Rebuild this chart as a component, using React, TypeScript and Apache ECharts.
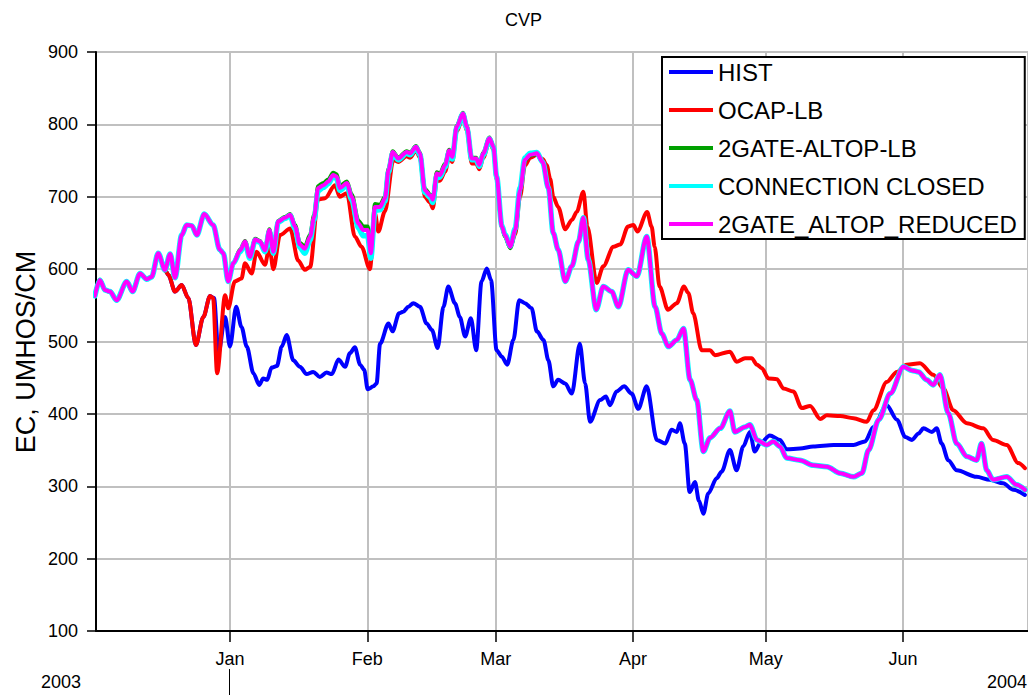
import React, { useEffect, useRef } from "react";
import * as echarts from "echarts";

const FONT = "'Liberation Sans', Arial, Helvetica, sans-serif";
const DAY = 86400000;
const START = Date.UTC(2003, 11, 1);

const TITLE = "CVP";
const Y_NAME = "EC, UMHOS/CM";
const MONTH_NAMES = ["Jan", "Feb", "Mar", "Apr", "May", "Jun", "Jul", "Aug", "Sep", "Oct", "Nov", "Dec"];
const Y_TICKS = { min: 100, max: 900, step: 100 };
const YEAR_LABELS = ["2003", "2004"];

const SERIES_NAMES = ["HIST", "OCAP-LB", "2GATE-ALTOP-LB", "CONNECTION CLOSED", "2GATE_ALTOP_REDUCED"];
const SERIES_COLORS = ["#0000ff", "#ff0000", "#00a000", "#00ffff", "#ff00ff"];

// [days since 2003-12-01, EC]
const HIST: [number, number][] = [
  [0.5, 563], [1.6, 585], [2.8, 571], [3.9, 569], [5.4, 557], [7.7, 583], [9.0, 569], [10.7, 594], [12.2, 586], [13.3, 589],
  [14.8, 622], [16.3, 599], [17.1, 592], [18.6, 569], [20.1, 578], [21.6, 560], [23.3, 495], [25.0, 534], [26.5, 563], [27.4, 560],
  [28.4, 484], [29.9, 534], [31.0, 493], [32.4, 548], [33.6, 520], [34.8, 493], [36.3, 456], [37.6, 440], [38.5, 449], [39.4, 447],
  [40.4, 464], [41.6, 466], [42.7, 493], [43.8, 509], [45.3, 474], [46.8, 465], [48.3, 455], [49.8, 458], [51.3, 451], [52.8, 457],
  [54.0, 455], [55.5, 475], [57.0, 465], [58.1, 484], [59.2, 492], [60.4, 468], [61.3, 461], [62.1, 434], [63.4, 438], [64.1, 442],
  [64.9, 497], [66.8, 525], [67.7, 514], [69.2, 539], [70.1, 541], [71.3, 548], [72.4, 553], [73.9, 548], [75.4, 525], [76.6, 516],
  [77.9, 491], [79.2, 548], [80.3, 576], [81.8, 553], [82.9, 534], [84.1, 507], [85.4, 532], [86.6, 488], [87.8, 583], [89.0, 601],
  [89.95, 585], [91.2, 488], [92.4, 479], [93.6, 468], [95.0, 502], [96.3, 557], [97.6, 553], [99.1, 546], [100.3, 514], [101.8, 502],
  [102.9, 474], [104.0, 438], [105.1, 447], [106.7, 442], [108.2, 428], [110.0, 497], [111.2, 442], [112.3, 389], [114.6, 419], [115.9, 424],
  [116.8, 412], [118.3, 431], [120.0, 438], [121.7, 428], [123.2, 407], [125.1, 438], [127.4, 364], [129.3, 359], [130.7, 378], [131.9, 375],
  [132.6, 387], [133.7, 359], [134.8, 292], [136.0, 306], [136.9, 280], [137.9, 262], [139.0, 290], [140.9, 311], [142.0, 320], [143.9, 350],
  [145.4, 322], [146.9, 355], [148.4, 375], [149.5, 348], [150.7, 359], [152.9, 370], [155.2, 364], [156.7, 351], [159.7, 352], [162.7, 355],
  [167.3, 357], [171.8, 357], [174.4, 362], [176.3, 382], [179.3, 412], [181.6, 392], [183.5, 368], [185.0, 364], [186.5, 373], [187.6, 380],
  [189.5, 375], [190.6, 380], [191.7, 359], [193.2, 336], [195.1, 322], [199.6, 313], [202.6, 309], [205.6, 304], [207.9, 295], [210.5, 288],
];

const OCAP_LB: [number, number][] = [
  [0.5, 563], [1.6, 585], [2.8, 571], [3.9, 569], [5.4, 557], [7.7, 583], [9.0, 569], [10.7, 594], [12.2, 586], [13.3, 589],
  [14.8, 622], [16.3, 599], [17.1, 592], [18.6, 569], [20.1, 578], [21.6, 560], [23.3, 495], [25.0, 534], [26.5, 563], [27.2, 560],
  [28.1, 456], [29.9, 564], [30.6, 546], [32.1, 583], [33.6, 587], [34.4, 608], [35.9, 594], [37.0, 624], [38.9, 606], [39.9, 631],
  [40.8, 600], [42.3, 647], [44.6, 656], [46.4, 612], [47.9, 599], [49.1, 603], [50.9, 696], [52.5, 698], [54.7, 716], [55.8, 700],
  [57.4, 705], [59.2, 645], [60.7, 631], [62.6, 600], [63.75, 677], [64.5, 652], [66.0, 680], [67.9, 751], [69.0, 748], [70.9, 756],
  [71.7, 754], [73.0, 764], [73.9, 754], [75.0, 700], [76.2, 692], [76.8, 684], [77.7, 722], [78.4, 722], [79.6, 735], [80.5, 756],
  [81.2, 748], [82.2, 790], [83.6, 810], [84.5, 792], [85.6, 746], [86.6, 746], [87.3, 738], [88.2, 754], [89.6, 777], [90.5, 765],
  [91.2, 724], [92.4, 660], [93.1, 645], [94.3, 630], [95.4, 648], [96.5, 700], [97.6, 743], [98.8, 754], [100.3, 758], [101.6, 752],
  [102.5, 744], [103.3, 725], [104.0, 700], [105.1, 686], [106.7, 655], [108.2, 668], [109.3, 679], [110.8, 707], [111.7, 659], [113.8, 581],
  [115.3, 604], [117.6, 631], [119.1, 634], [120.9, 659], [122.1, 661], [123.0, 652], [125.2, 679], [126.2, 659], [126.9, 631], [128.0, 576],
  [129.9, 544], [131.9, 553], [133.5, 576], [134.5, 567], [135.6, 539], [137.5, 488], [139.4, 488], [140.5, 481], [143.9, 486], [145.4, 472],
  [147.3, 477], [148.8, 477], [150.0, 468], [151.1, 463], [152.6, 449], [154.5, 448], [156.0, 435], [158.2, 431], [160.1, 408], [162.0, 411],
  [164.3, 393], [165.8, 398], [168.8, 397], [171.8, 394], [174.8, 389], [176.3, 405], [179.3, 444], [181.6, 458], [183.8, 468], [186.8, 470],
  [189.8, 454], [192.1, 435], [194.3, 405], [197.4, 387], [201.1, 380], [203.3, 364], [206.4, 357], [209.0, 332], [210.5, 325],
];

const GATE_LB: [number, number][] = [
  [0.5, 563], [1.6, 585], [2.8, 571], [3.9, 569], [5.4, 557], [7.7, 583], [9.0, 569], [10.7, 594], [12.2, 586], [13.3, 589],
  [14.8, 622], [16.3, 599], [17.5, 621], [18.6, 588], [20.1, 647], [21.2, 661], [22.4, 660], [23.5, 647], [25.2, 676], [27.2, 661],
  [28.7, 627], [29.5, 622], [30.6, 583], [31.75, 608], [33.3, 627], [34.4, 639], [35.5, 618], [36.7, 642], [37.8, 639], [38.9, 627],
  [39.9, 655], [40.8, 625], [41.9, 667], [43.4, 672], [44.6, 676], [45.7, 661], [46.8, 636], [47.9, 631], [49.1, 648], [50.0, 675],
  [50.9, 715], [52.1, 719], [53.2, 724], [54.3, 733], [55.1, 731], [55.8, 715], [57.4, 721], [58.5, 703], [60.0, 667], [61.1, 659],
  [62.1, 659], [62.8, 627], [63.75, 690], [64.9, 689], [66.0, 700], [66.8, 739], [67.75, 763], [69.0, 754], [70.9, 763], [71.7, 761],
  [73.0, 770], [73.9, 761], [75.0, 711], [76.2, 703], [76.8, 698], [77.7, 734], [78.4, 732], [79.6, 746], [80.5, 765], [81.2, 756],
  [82.2, 798], [83.6, 816], [84.5, 798], [85.6, 754], [86.6, 754], [87.3, 745], [88.2, 761], [89.6, 782], [90.5, 770], [91.2, 729],
  [92.4, 658], [93.1, 645], [94.3, 629], [95.4, 652], [96.5, 707], [97.6, 750], [98.8, 757], [100.3, 759], [101.6, 748], [102.9, 712],
  [104.0, 650], [105.1, 627], [106.7, 583], [108.2, 604], [109.7, 638], [110.8, 671], [111.9, 613], [113.7, 544], [115.3, 576], [117.2, 569],
  [118.7, 548], [120.9, 599], [122.9, 590], [125.1, 645], [127.0, 548], [128.5, 511], [130.0, 493], [131.9, 502], [133.4, 518], [134.9, 447],
  [136.4, 419], [137.9, 348], [139.4, 367], [141.7, 380], [143.9, 404], [145.0, 375], [147.3, 382], [148.4, 385], [150.0, 364], [152.2, 357],
  [153.7, 362], [155.2, 355], [156.7, 339], [159.7, 336], [162.7, 329], [165.8, 327], [168.8, 318], [171.8, 313], [173.7, 318], [175.2, 350],
  [177.5, 392], [180.1, 428], [183.1, 465], [185.0, 460], [186.5, 458], [188.3, 447], [189.8, 440], [191.3, 454], [193.2, 401], [195.1, 359],
  [197.4, 341], [199.6, 336], [200.7, 359], [201.9, 322], [203.3, 309], [206.4, 313], [208.6, 302], [210.5, 295],
];

const CONNECTION_CLOSED: [number, number][] = [
  [0.5, 563], [1.6, 585], [2.8, 571], [3.9, 569], [5.4, 557], [7.7, 583], [9.0, 569], [10.7, 594], [12.2, 586], [13.3, 589],
  [14.8, 622], [16.3, 599], [17.5, 621], [18.6, 588], [20.1, 647], [21.2, 661], [22.4, 660], [23.5, 647], [25.2, 676], [27.2, 661],
  [28.7, 627], [29.5, 622], [30.6, 583], [31.75, 608], [33.3, 624], [34.4, 636], [35.5, 615], [36.7, 640], [37.8, 637], [38.9, 624],
  [39.9, 652], [40.8, 622], [41.9, 665], [43.4, 670], [44.6, 674], [45.7, 656], [46.8, 630], [47.9, 622], [49.1, 640], [50.0, 668],
  [50.9, 708], [52.1, 713], [53.2, 718], [54.3, 728], [55.1, 725], [55.8, 709], [57.4, 716], [58.5, 696], [60.0, 657], [61.1, 646],
  [62.1, 646], [62.8, 615], [63.75, 681], [64.9, 682], [66.0, 694], [66.8, 734], [67.75, 760], [69.0, 751], [70.9, 760], [71.7, 758],
  [73.0, 768], [73.9, 758], [75.0, 706], [76.2, 699], [76.8, 692], [77.7, 729], [78.4, 727], [79.6, 741], [80.5, 762], [81.2, 752],
  [82.2, 795], [83.6, 814], [84.5, 795], [85.6, 751], [86.6, 751], [87.3, 742], [88.2, 758], [89.6, 780], [90.5, 768], [91.2, 728],
  [92.4, 660], [93.1, 648], [94.3, 632], [95.4, 656], [96.5, 712], [97.6, 754], [98.8, 760], [100.3, 761], [101.6, 748], [102.9, 712],
  [104.0, 650], [105.1, 627], [106.7, 583], [108.2, 604], [109.7, 638], [110.8, 671], [111.9, 613], [113.7, 544], [115.3, 576], [117.2, 569],
  [118.7, 548], [120.9, 599], [122.9, 590], [125.1, 645], [127.0, 548], [128.5, 511], [130.0, 493], [131.9, 502], [133.4, 518], [134.9, 447],
  [136.4, 419], [137.9, 348], [139.4, 367], [141.7, 380], [143.9, 404], [145.0, 375], [147.3, 382], [148.4, 385], [150.0, 364], [152.2, 357],
  [153.7, 362], [155.2, 355], [156.7, 339], [159.7, 336], [162.7, 329], [165.8, 327], [168.8, 318], [171.8, 313], [173.7, 318], [175.2, 350],
  [177.5, 392], [180.1, 428], [183.1, 465], [185.0, 460], [186.5, 458], [188.3, 447], [189.8, 440], [191.3, 454], [193.2, 401], [195.1, 359],
  [197.4, 341], [199.6, 336], [200.7, 359], [201.9, 322], [203.3, 309], [206.4, 313], [208.6, 302], [210.5, 295],
];

const GATE_REDUCED: [number, number][] = [
  [0.5, 563], [1.6, 585], [2.8, 571], [3.9, 569], [5.4, 557], [7.7, 583], [9.0, 569], [10.7, 594], [12.2, 586], [13.3, 589],
  [14.8, 622], [16.3, 599], [17.5, 621], [18.6, 588], [20.1, 647], [21.2, 661], [22.4, 660], [23.5, 647], [25.2, 676], [27.2, 661],
  [28.7, 627], [29.5, 622], [30.6, 583], [31.75, 608], [33.3, 626], [34.4, 638], [35.5, 617], [36.7, 641], [37.8, 638], [38.9, 626],
  [39.9, 654], [40.8, 624], [41.9, 666], [43.4, 671], [44.6, 675], [45.7, 659], [46.8, 634], [47.9, 628], [49.1, 645], [50.0, 672],
  [50.9, 712], [52.1, 716], [53.2, 721], [54.3, 730], [55.1, 728], [55.8, 712], [57.4, 719], [58.5, 700], [60.0, 663], [61.1, 654],
  [62.1, 654], [62.8, 622], [63.75, 686], [64.9, 686], [66.0, 698], [66.8, 737], [67.75, 762], [69.0, 753], [70.9, 762], [71.7, 760],
  [73.0, 769], [73.9, 760], [75.0, 709], [76.2, 702], [76.8, 696], [77.7, 732], [78.4, 730], [79.6, 744], [80.5, 764], [81.2, 755],
  [82.2, 797], [83.6, 815], [84.5, 797], [85.6, 753], [86.6, 753], [87.3, 744], [88.2, 760], [89.6, 781], [90.5, 769], [91.2, 728],
  [92.4, 659], [93.1, 647], [94.3, 631], [95.4, 654], [96.5, 709], [97.6, 751], [98.8, 758], [100.3, 760], [101.6, 748], [102.9, 712],
  [104.0, 650], [105.1, 627], [106.7, 583], [108.2, 604], [109.7, 638], [110.8, 671], [111.9, 613], [113.7, 544], [115.3, 576], [117.2, 569],
  [118.7, 548], [120.9, 599], [122.9, 590], [125.1, 645], [127.0, 548], [128.5, 511], [130.0, 493], [131.9, 502], [133.4, 518], [134.9, 447],
  [136.4, 419], [137.9, 348], [139.4, 367], [141.7, 380], [143.9, 404], [145.0, 375], [147.3, 382], [148.4, 385], [150.0, 364], [152.2, 357],
  [153.7, 362], [155.2, 355], [156.7, 339], [159.7, 336], [162.7, 329], [165.8, 327], [168.8, 318], [171.8, 313], [173.7, 318], [175.2, 350],
  [177.5, 392], [180.1, 428], [183.1, 465], [185.0, 460], [186.5, 458], [188.3, 447], [189.8, 440], [191.3, 454], [193.2, 401], [195.1, 359],
  [197.4, 341], [199.6, 336], [200.7, 359], [201.9, 322], [203.3, 309], [206.4, 313], [208.6, 302], [210.5, 295],
];

const SERIES_DATA = [HIST, OCAP_LB, GATE_LB, CONNECTION_CLOSED, GATE_REDUCED];
const SERIES_WIDTHS = [4, 4, 4, 5.5, 4];

const X_RANGE_DAYS = [0.75, 211.2];

function toTime(d: number) {
  return START + d * DAY;
}

function isMonthStart(v: number) {
  const d = new Date(v);
  return d.getUTCDate() === 1 && d.getUTCHours() === 0 && d.getUTCMinutes() === 0;
}

export default function App() {
  const ref = useRef<HTMLDivElement>(null);

  useEffect(() => {
    if (!ref.current) return;
    const chart = echarts.init(ref.current, null, { renderer: "svg" });

    const option: any = {
      animation: false,
      useUTC: true,
      backgroundColor: "#ffffff",
      textStyle: { fontFamily: FONT, color: "#000" },
      grid: { left: 96, right: 0, top: 52, bottom: 64, containLabel: false },
      legend: {
        orient: "vertical",
        left: 662,
        top: 57,
        backgroundColor: "#ffffff",
        borderColor: "#000",
        borderWidth: 2,
        borderRadius: 0,
        padding: [3, 8, 3, 7],
        itemWidth: 44,
        itemHeight: 4,
        itemGap: 14,
        icon: "rect",
        data: SERIES_NAMES,
        textStyle: { fontFamily: FONT, fontSize: 24, color: "#000" },
      },
      xAxis: {
        type: "time",
        min: toTime(X_RANGE_DAYS[0]),
        max: toTime(X_RANGE_DAYS[1]),
        splitNumber: 7,
        minInterval: 28 * DAY,
        axisLine: { show: true, lineStyle: { color: "#000", width: 2 } },
        axisTick: { show: true, length: 11, lineStyle: { color: "#000", width: 1.5 } },
        axisLabel: {
          fontFamily: FONT,
          fontSize: 18,
          color: "#000",
          margin: 19,
          hideOverlap: false,
          showMinLabel: false,
          showMaxLabel: false,
          formatter: (v: number) => (isMonthStart(v) ? MONTH_NAMES[new Date(v).getUTCMonth()] : ""),
        },
        splitLine: { show: true, lineStyle: { color: "#c0c0c0", width: 2 } },
      },
      yAxis: {
        type: "value",
        min: Y_TICKS.min,
        max: Y_TICKS.max,
        interval: Y_TICKS.step,
        axisLine: { show: true, lineStyle: { color: "#000", width: 2 } },
        axisTick: { show: true, length: 9, lineStyle: { color: "#000", width: 1.5 } },
        axisLabel: { fontFamily: FONT, fontSize: 18, color: "#000", margin: 18 },
        splitLine: { show: true, lineStyle: { color: "#c0c0c0", width: 2 } },
      },
      graphic: [
        {
          type: "text",
          x: 523.5,
          y: 20,
          style: { text: TITLE, font: `18px ${FONT}`, fill: "#000", align: "center", verticalAlign: "middle" },
        },
        {
          type: "text",
          x: 26,
          y: 352,
          rotation: Math.PI / 2,
          style: { text: Y_NAME, font: `27px ${FONT}`, fill: "#000", align: "center", verticalAlign: "middle" },
        },
        {
          type: "text",
          left: 41,
          top: 673,
          style: { text: YEAR_LABELS[0], font: `18px ${FONT}`, fill: "#000" },
        },
        {
          type: "text",
          right: 1,
          top: 673,
          style: { text: YEAR_LABELS[1], font: `18px ${FONT}`, fill: "#000" },
        },
        {
          type: "line",
          shape: { x1: 229.5, y1: 669, x2: 229.5, y2: 695 },
          style: { stroke: "#000", lineWidth: 1 },
        },
      ],
      series: SERIES_NAMES.map((name, i) => ({
        name,
        type: "line",
        showSymbol: false,
        symbol: "none",
        smooth: 0.3,
        smoothMonotone: "x",
        color: SERIES_COLORS[i],
        lineStyle: { color: SERIES_COLORS[i], width: SERIES_WIDTHS[i], join: "round", cap: "round" },
        emphasis: { disabled: true },
        data: SERIES_DATA[i].map(([d, v]) => [toTime(d), v]),
      })),
    };

    chart.setOption(option);
    return () => chart.dispose();
  }, []);

  return (
    <div
      ref={ref}
      style={{ position: "fixed", left: 0, top: 0, width: 1028, height: 695, background: "#fff" }}
    />
  );
}
